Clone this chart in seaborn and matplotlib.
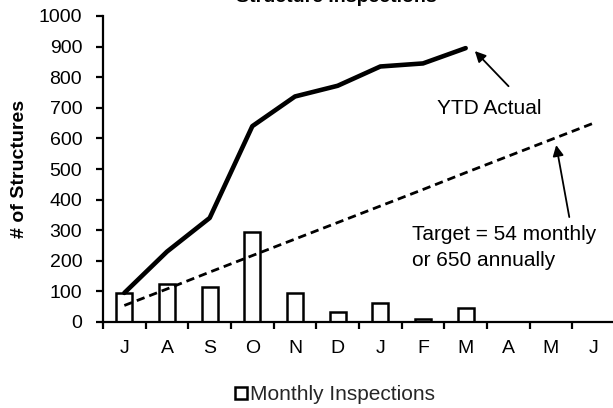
import numpy as np
import pandas as pd
import matplotlib
matplotlib.use("Agg")
import matplotlib.pyplot as plt
import seaborn as sns
from matplotlib.lines import Line2D

months = ["Jul", "Aug", "Sep", "Oct", "Nov", "Dec", "Jan", "Feb", "Mar", "Apr", "May", "Jun"]
tick_labels = ["J", "A", "S", "O", "N", "D", "J", "F", "M", "A", "M", "J"]
monthly = [95, 125, 115, 295, 95, 33, 63, 10, 45, np.nan, np.nan, np.nan]
ytd_actual = [95, 230, 340, 640, 737, 772, 835, 845, 895]
target = [54, 108, 163, 217, 271, 325, 379, 433, 488, 542, 596, 650]

sns.set_theme(style="white")
plt.rcParams["font.family"] = ["Liberation Sans", "DejaVu Sans"]
FS = 14
FA = 15

fig = plt.figure(figsize=(6.13, 4.08), dpi=100)
ax = fig.add_axes([103 / 613, 1 - 322 / 408, 512 / 613, 306 / 408])

df = pd.DataFrame({"month": months, "count": monthly})
sns.barplot(data=df, x="month", y="count", order=months, color="white",
            edgecolor="black", linewidth=1.8, width=0.38, ax=ax)
sns.lineplot(x=np.arange(len(ytd_actual)), y=ytd_actual, color="black",
             linewidth=3.3, ax=ax)
sns.lineplot(x=np.arange(len(target)), y=target, color="black",
             linewidth=2.0, linestyle=(0, (3.0, 1.8)), ax=ax)

ax.set_xlim(-0.5, 11.5)
ax.set_ylim(0, 1000)
ax.set_yticks(np.arange(0, 1001, 100))
ax.set_xticks(np.arange(-0.5, 12, 1))
ax.set_xticklabels([])
ax.set_xticks(np.arange(12), minor=True)
ax.set_xticklabels(tick_labels, minor=True)
ax.tick_params(axis="x", which="major", direction="out", length=5, width=1.6,
               color="black", bottom=True)
ax.tick_params(axis="x", which="minor", length=0, pad=13, labelsize=FS, colors="black")
ax.tick_params(axis="y", direction="out", length=5, width=1.6, color="black",
               left=True, labelsize=FS, labelcolor="black", pad=10)
for s in ["top", "right"]:
    ax.spines[s].set_visible(False)
for s in ["left", "bottom"]:
    ax.spines[s].set_color("black")
    ax.spines[s].set_linewidth(1.6)
ax.set_xlabel("")
ax.set_ylabel("# of Structures", fontsize=FS, fontweight="bold", color="black", labelpad=8)
ax.grid(False)

ax.annotate("", xy=(8.17, 892), xytext=(9.05, 764),
            arrowprops=dict(arrowstyle="-|>", color="black", lw=1.3, mutation_scale=16))
ax.text(7.32, 698, "YTD Actual", fontsize=FA, va="center", ha="left", color="black")
ax.annotate("", xy=(10.11, 587), xytext=(10.44, 334),
            arrowprops=dict(arrowstyle="-|>", color="black", lw=1.3, mutation_scale=16))
ax.text(6.74, 243, "Target = 54 monthly\nor 650 annually", fontsize=FA, va="center",
        ha="left", color="black", linespacing=1.45)

fig.text(0.548, 0.9963, "Structure Inspections", fontsize=FS, fontweight="bold",
         ha="center", va="baseline", color="black")

handle = Line2D([], [], marker="s", linestyle="none", markerfacecolor="white",
                markeredgecolor="black", markeredgewidth=1.8, markersize=9)
fig.legend([handle], ["Monthly Inspections"], loc="center", bbox_to_anchor=(0.545, 0.032),
           frameon=False, fontsize=FA, handletextpad=0.1, handlelength=0.7)

fig.savefig("out.png", dpi=100)
